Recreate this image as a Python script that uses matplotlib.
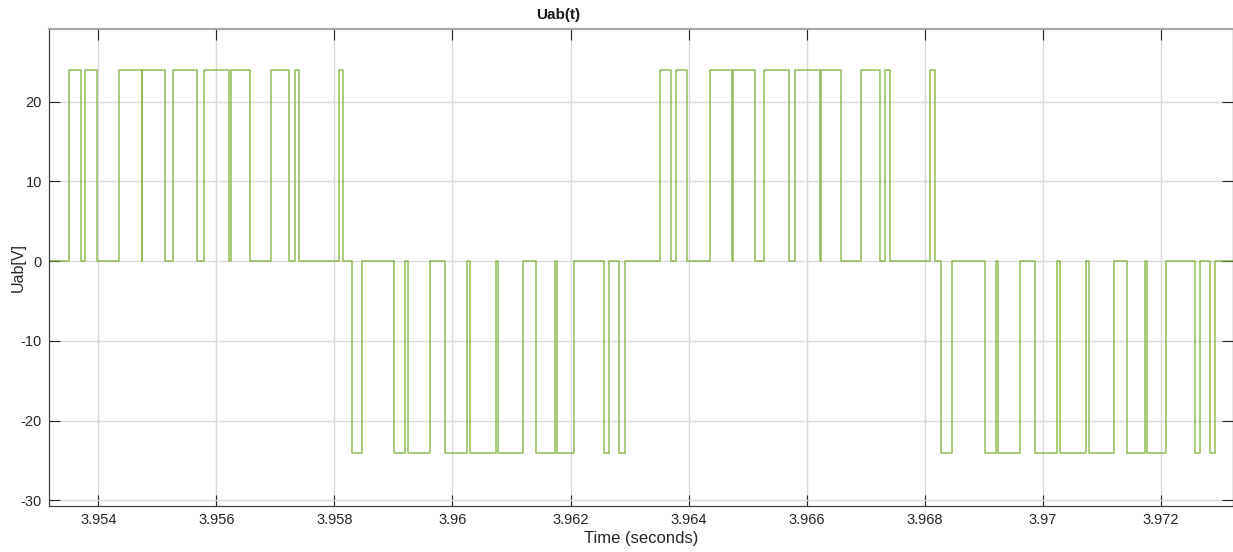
import numpy as np
import matplotlib
matplotlib.use("Agg")
import matplotlib.pyplot as plt
from matplotlib.ticker import FormatStrFormatter

# window shown on the scope
t_start = 3.953165
t_stop = 3.973213

# switching instants [s] and the level Uab takes right after each one [V]
t_switch = [
    3.953509, 3.953702, 3.953775, 3.953983, 3.954356, 3.954735, 3.954745,
    3.955129, 3.955260, 3.955676, 3.955795, 3.956222, 3.956240, 3.956569,
    3.956929, 3.957234, 3.957331, 3.957403, 3.958081, 3.958148,
    3.958291, 3.958470, 3.959007, 3.959193, 3.959239, 3.959616, 3.959870,
    3.960238, 3.960294, 3.960729, 3.960773, 3.961196, 3.961423, 3.961733,
    3.961762, 3.962060, 3.962568, 3.962652, 3.962822, 3.962918,
    3.963523, 3.963697, 3.963781, 3.963980, 3.964357, 3.964737, 3.964747,
    3.965131, 3.965272, 3.965695, 3.965796, 3.966228, 3.966246, 3.966575,
    3.966926, 3.967248, 3.967332, 3.967417, 3.968083, 3.968168,
    3.968281, 3.968466, 3.969025, 3.969200, 3.969239, 3.969618, 3.969872,
    3.970238, 3.970284, 3.970724, 3.970775, 3.971198, 3.971423, 3.971738,
    3.971766, 3.972079, 3.972570, 3.972666, 3.972835, 3.972925,
]
u_level = [
    24, 0, 24, 0, 24, 0, 24,
    0, 24, 0, 24, 0, 24, 0,
    24, 0, 24, 0, 24, 0,
    -24, 0, -24, 0, -24, 0, -24,
    0, -24, 0, -24, 0, -24, 0,
    -24, 0, -24, 0, -24, 0,
    24, 0, 24, 0, 24, 0, 24,
    0, 24, 0, 24, 0, 24, 0,
    24, 0, 24, 0, 24, 0,
    -24, 0, -24, 0, -24, 0, -24,
    0, -24, 0, -24, 0, -24, 0,
    -24, 0, -24, 0, -24, 0,
]

x_ticks = [3.954, 3.956, 3.958, 3.960, 3.962, 3.964, 3.966, 3.968, 3.970, 3.972]
y_ticks = [-30, -20, -10, 0, 10, 20]

t = np.array([t_start] + t_switch + [t_stop])
u = np.array([0] + u_level + [u_level[-1]])

plt.rcParams['font.family'] = ['Liberation Sans', 'DejaVu Sans']
plt.rcParams['axes.unicode_minus'] = False

fig = plt.figure(figsize=(12.33, 5.52), dpi=100)
ax = fig.add_axes([49 / 1233, 46 / 552, 1183.5 / 1233, 477 / 552])

ax.plot(t, u, drawstyle='steps-post', color='#77AC30', lw=1.1, alpha=0.8)

ax.set_xlim(t_start, t_stop)
ax.set_ylim(-30.7, 29.1)
ax.set_xticks(x_ticks)
ax.set_yticks(y_ticks)
ax.xaxis.set_major_formatter(FormatStrFormatter('%g'))

ax.grid(True, color='#dadada', lw=1.0)
ax.set_axisbelow(True)
ax.tick_params(direction='in', length=8, width=0.8, top=True, right=True,
               labelsize=10.5, colors='#262626', pad=5)
for side in ['left', 'bottom', 'right']:
    ax.spines[side].set_color('#404040')
    ax.spines[side].set_linewidth(0.9)
ax.spines['top'].set_color('#a6a6a6')
ax.spines['top'].set_linewidth(1.6)

ax.set_xlabel('Time (seconds)', fontsize=12, color='#262626', labelpad=3)
ax.set_ylabel('Uab[V]', fontsize=11.5, color='#262626')
ax.yaxis.set_label_coords(-23 / 1183.5, 0.5)
fig.text(558 / 1233, 1 - 15 / 552, 'Uab(t)', ha='center', va='center',
         fontsize=11, fontweight='bold', color='#1a1a1a')

fig.savefig('out.png', dpi=100, facecolor='white')
